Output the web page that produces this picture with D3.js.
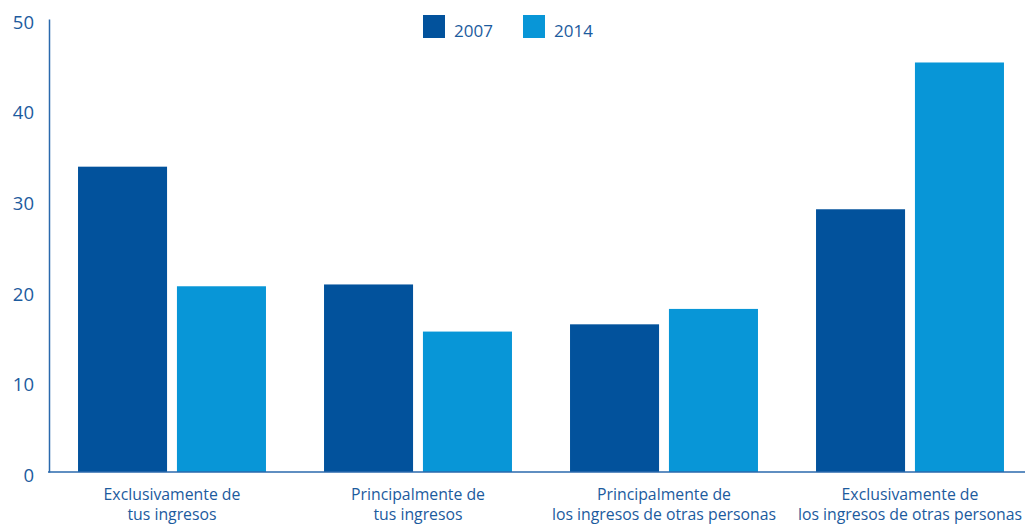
<!DOCTYPE html>
<html>
<head>
<meta charset="utf-8">
<script src="https://cdn.jsdelivr.net/npm/d3@7"></script>
<style>
    body { margin: 0; background: #fff; }
    text { font-family: "Open Sans", sans-serif; fill: #1c5b9e; }
</style>
</head>
<body>
<div id="chart"></div>
<script>
const categories = [
    ["Exclusivamente de", "tus ingresos"],
    ["Principalmente de", "tus ingresos"],
    ["Principalmente de", "los ingresos de otras personas"],
    ["Exclusivamente de", "los ingresos de otras personas"]
];
const years = ["2007", "2014"];
const values2007 = [33.7, 20.7, 16.3, 29.0];
const values2014 = [20.5, 15.5, 18.0, 45.2];
const yTicks = [0, 10, 20, 30, 40, 50];
const colors = ["#02529c", "#0896d7"];

const width = 1025;
const height = 524;

const svg = d3.select("#chart")
    .append("svg")
    .attr("width", width)
    .attr("height", height);

const x0 = d3.scaleBand()
    .domain(d3.range(categories.length))
    .range([49, 1033])
    .paddingInner(0.236)
    .paddingOuter(0.118);

const x1 = d3.scaleBand()
    .domain(years)
    .range([0, x0.bandwidth()])
    .paddingInner(0.1);

const y = d3.scaleLinear()
    .domain([0, 50])
    .range([472, 19]);

// bars
const groups = svg.selectAll(".group")
    .data(categories)
    .enter()
    .append("g")
    .attr("transform", (d, i) => `translate(${x0(i)},0)`);

groups.selectAll("rect")
    .data((d, i) => [values2007[i], values2014[i]])
    .enter()
    .append("rect")
    .attr("x", (d, j) => x1(years[j]))
    .attr("width", x1.bandwidth())
    .attr("y", d => y(d))
    .attr("height", d => y(0) - y(d))
    .attr("fill", (d, j) => colors[j]);

// y axis
const yAxis = svg.append("g")
    .attr("transform", "translate(49,0)")
    .call(d3.axisLeft(y).tickValues(yTicks).tickSize(0).tickPadding(15));
yAxis.select(".domain").attr("stroke", "#2a69ad").attr("stroke-width", 1.5);
yAxis.selectAll("text")
    .attr("dy", "0.5em")
    .style("font-size", "18.5px")
    .attr("fill", "#1c5b9e");

// baseline
svg.append("line")
    .attr("x1", 48)
    .attr("x2", width)
    .attr("y1", y(0))
    .attr("y2", y(0))
    .attr("stroke", "#2a69ad")
    .attr("stroke-width", 1.5);

// category labels
const labels = svg.selectAll(".cat")
    .data(categories)
    .enter()
    .append("text")
    .attr("text-anchor", "middle")
    .style("font-size", "15.8px");
labels.selectAll("tspan")
    .data((d, i) => d.map(line => ({ line, i })))
    .enter()
    .append("tspan")
    .attr("x", d => x0(d.i) + x0.bandwidth() / 2)
    .attr("y", (d, k) => 500 + k * 20)
    .text(d => d.line);

// legend
const legend = svg.selectAll(".legend")
    .data(years)
    .enter()
    .append("g")
    .attr("transform", (d, i) => `translate(${423 + i * 100},15)`);
legend.append("rect")
    .attr("width", 22)
    .attr("height", 23)
    .attr("fill", (d, i) => colors[i]);
legend.append("text")
    .attr("x", 31)
    .attr("y", 22)
    .style("font-size", "17px")
    .text(d => d);
</script>
</body>
</html>
